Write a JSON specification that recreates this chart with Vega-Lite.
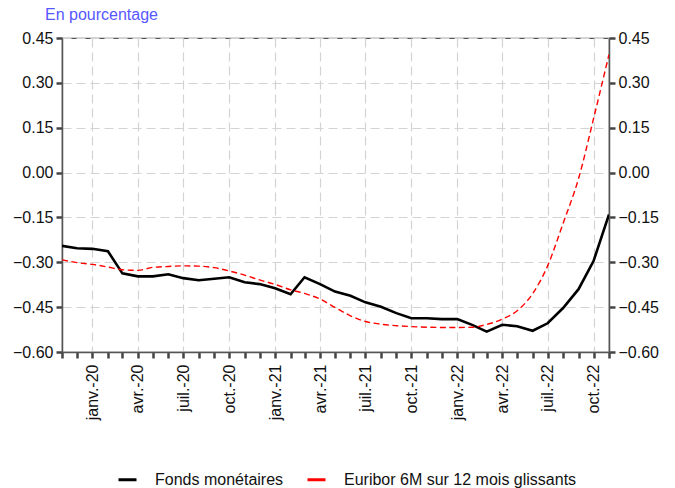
{
  "$schema": "https://vega.github.io/schema/vega-lite/v6.json",
  "autosize": {"type": "none"},
  "width": 547,
  "height": 314,
  "padding": {"left": 62, "top": 38, "right": 66, "bottom": 136},
  "background": "white",
  "config": {
    "font": "Liberation Sans",
    "view": {"stroke": "#555555", "strokeWidth": 1.2},
    "axis": {"labelFont": "Liberation Sans", "labelFontSize": 16, "labelColor": "#111111", "domainColor": "#555555", "domainWidth": 1.5, "tickColor": "#444444", "tickWidth": 2.5, "tickSize": 6, "gridColor": "#d3d3d3", "gridDash": [9, 5], "gridWidth": 1.2, "title": null}
  },
  "title": {"text": "En pourcentage", "anchor": "start", "frame": "group", "dx": -17, "offset": 7, "fontSize": 16, "fontWeight": "normal", "color": "#5757ff", "font": "Liberation Sans"},
  "data": {"values": [
    {"date": "2019-11-01", "fonds": -0.245, "euribor": -0.292},
    {"date": "2019-12-01", "fonds": -0.253, "euribor": -0.301},
    {"date": "2020-01-01", "fonds": -0.255, "euribor": -0.307},
    {"date": "2020-02-01", "fonds": -0.263, "euribor": -0.316},
    {"date": "2020-03-01", "fonds": -0.337, "euribor": -0.325},
    {"date": "2020-04-01", "fonds": -0.347, "euribor": -0.327},
    {"date": "2020-05-01", "fonds": -0.347, "euribor": -0.317},
    {"date": "2020-06-01", "fonds": -0.340, "euribor": -0.314},
    {"date": "2020-07-01", "fonds": -0.353, "euribor": -0.312},
    {"date": "2020-08-01", "fonds": -0.360, "euribor": -0.313},
    {"date": "2020-09-01", "fonds": -0.355, "euribor": -0.318},
    {"date": "2020-10-01", "fonds": -0.350, "euribor": -0.329},
    {"date": "2020-11-01", "fonds": -0.367, "euribor": -0.343},
    {"date": "2020-12-01", "fonds": -0.373, "euribor": -0.359},
    {"date": "2021-01-01", "fonds": -0.387, "euribor": -0.374},
    {"date": "2021-02-01", "fonds": -0.407, "euribor": -0.392},
    {"date": "2021-03-01", "fonds": -0.350, "euribor": -0.404},
    {"date": "2021-04-01", "fonds": -0.373, "euribor": -0.423},
    {"date": "2021-05-01", "fonds": -0.398, "euribor": -0.451},
    {"date": "2021-06-01", "fonds": -0.412, "euribor": -0.479},
    {"date": "2021-07-01", "fonds": -0.434, "euribor": -0.498},
    {"date": "2021-08-01", "fonds": -0.449, "euribor": -0.507},
    {"date": "2021-09-01", "fonds": -0.470, "euribor": -0.512},
    {"date": "2021-10-01", "fonds": -0.487, "euribor": -0.515},
    {"date": "2021-11-01", "fonds": -0.487, "euribor": -0.517},
    {"date": "2021-12-01", "fonds": -0.490, "euribor": -0.518},
    {"date": "2022-01-01", "fonds": -0.490, "euribor": -0.518},
    {"date": "2022-02-01", "fonds": -0.510, "euribor": -0.517},
    {"date": "2022-03-01", "fonds": -0.532, "euribor": -0.508},
    {"date": "2022-04-01", "fonds": -0.509, "euribor": -0.490},
    {"date": "2022-05-01", "fonds": -0.514, "euribor": -0.462},
    {"date": "2022-06-01", "fonds": -0.529, "euribor": -0.405},
    {"date": "2022-07-01", "fonds": -0.504, "euribor": -0.312},
    {"date": "2022-08-01", "fonds": -0.453, "euribor": -0.170},
    {"date": "2022-09-01", "fonds": -0.390, "euribor": -0.020},
    {"date": "2022-10-01", "fonds": -0.296, "euribor": 0.180},
    {"date": "2022-11-01", "fonds": -0.140, "euribor": 0.395}
  ]},
  "encoding": {
    "x": {
      "field": "date", "type": "temporal",
      "scale": {"type": "utc", "domain": [{"year": 2019, "month": 11, "date": 1, "utc": true}, {"year": 2022, "month": 11, "date": 1, "utc": true}]},
      "axis": {
        "tickCount": {"interval": "month", "step": 1},
        "labelAngle": -90, "labelAlign": "right", "labelBaseline": "middle", "labelPadding": 6,
        "labelOverlap": false, "labelBound": false, "labelFlush": false,
        "labelExpr": "utcmonth(datum.value)==0 ? 'janv.-'+utcFormat(datum.value,'%y') : utcmonth(datum.value)==3 ? 'avr.-'+utcFormat(datum.value,'%y') : utcmonth(datum.value)==6 ? 'juil.-'+utcFormat(datum.value,'%y') : utcmonth(datum.value)==9 ? 'oct.-'+utcFormat(datum.value,'%y') : ''",
        "gridOpacity": {"condition": {"test": "utcmonth(datum.value) % 3 == 0", "value": 1}, "value": 0}
      }
    }
  },
  "layer": [
    {
      "mark": {"type": "line", "strokeWidth": 2.6, "clip": true},
      "encoding": {
        "y": {"field": "fonds", "type": "quantitative", "scale": {"domain": [-0.6, 0.45], "nice": false, "zero": false},
              "axis": {"values": [-0.6, -0.45, -0.3, -0.15, 0, 0.15, 0.3, 0.45], "format": ".2f", "orient": "left", "labelPadding": 3}},
        "color": {"datum": "Fonds monétaires", "type": "nominal"}
      }
    },
    {
      "mark": {"type": "line", "strokeWidth": 1.4, "strokeDash": [6, 3.5], "clip": true, "interpolate": "monotone"},
      "encoding": {
        "y": {"field": "euribor", "type": "quantitative", "scale": {"domain": [-0.6, 0.45], "nice": false, "zero": false},
              "axis": {"values": [-0.6, -0.45, -0.3, -0.15, 0, 0.15, 0.3, 0.45], "format": ".2f", "orient": "right", "grid": false, "labelPadding": 3}},
        "color": {"datum": "Euribor 6M sur 12 mois glissants", "type": "nominal",
                  "scale": {"domain": ["Fonds monétaires", "Euribor 6M sur 12 mois glissants"], "range": ["#000000", "#ff0000"]},
                  "legend": {"title": null, "orient": "none", "direction": "horizontal", "legendX": 55, "legendY": 431, "padding": 0,
                             "symbolType": "stroke", "symbolSize": 324, "symbolStrokeWidth": 3, "symbolDash": [1, 0],
                             "labelFontSize": 16, "labelFont": "Liberation Sans", "labelColor": "#111111", "labelOffset": 17, "labelLimit": 400, "columnPadding": 17}}
      }
    }
  ],
  "resolve": {"scale": {"y": "independent"}}
}
